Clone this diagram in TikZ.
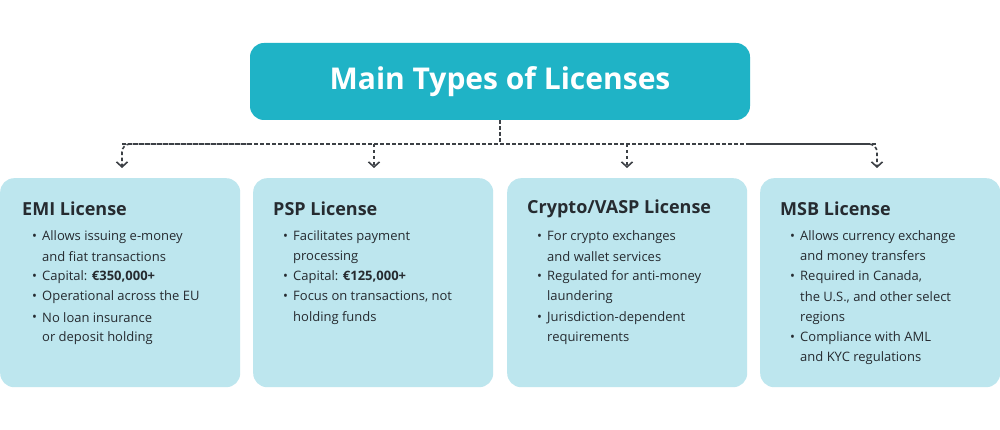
\documentclass[tikz,border=0pt]{standalone}
\usepackage{fontspec}
\setmainfont{Open Sans}
\usetikzlibrary{arrows.meta}
\definecolor{teal}{HTML}{1FB3C6}
\definecolor{lbox}{HTML}{BDE6EE}
\definecolor{ink}{HTML}{262B30}
\tikzset{
  card/.style={fill=lbox,draw=none,rounded corners=14pt},
  head/.style={anchor=west,inner sep=0,text=ink,font=\fontsize{18}{20}\selectfont\bfseries},
  txt/.style={anchor=west,inner sep=0,text=ink,font=\fontsize{13}{15}\selectfont},
  conn/.style={draw=ink!90,line width=1.6pt,dash pattern=on 3.5pt off 2.5pt},
  tip/.style={-{Straight Barb[length=5pt,width=11pt,line width=1.6pt]}}
}
\newcommand{\bul}[3]{\node[txt] at (#1+32,#2) {•}; \node[txt] at (#1+42,#2) {#3};}
\newcommand{\cont}[3]{\node[txt] at (#1+42,#2) {#3};}
\begin{document}
\begin{tikzpicture}[x=1pt,y=-1pt]
\useasboundingbox[fill=white] (0,0) rectangle (1000,430);
\node[fill=teal,rounded corners=14pt,minimum width=500pt,minimum height=77pt,inner sep=0,
  text=white,font=\fontsize{30}{32}\selectfont\bfseries] (title) at (500,81.5) {Main Types of Licenses};
\coordinate (hub) at (500,144);
\foreach \n/\x in {a/0,b/253,c/507,d/760}{
  \node[card,minimum width=240pt,minimum height=209pt,inner sep=0,anchor=north west] (\n) at (\x,178) {};
}
\foreach \n/\x in {a/122,b/374,c/627,d/877}{ \coordinate (t\n) at (\x,168); \coordinate (r\n) at (\x,144);}
\draw[conn] (title.south) -- (hub);
\draw[conn,rounded corners=8pt] (ra) -- (rd);
\draw[conn,rounded corners=8pt,tip] (250,144) -- (122,144) -- (ta);
\draw[conn,rounded corners=8pt,tip] (750,144) -- (877,144) -- (td);
\draw[conn,tip] (rb) -- (tb);
\draw[conn,tip] (rc) -- (tc);
% EMI
\node[head] at (22,209) {EMI License};
\bul{0}{237}{Allows issuing e-money}
\cont{0}{257}{and fiat transactions}
\bul{0}{277}{Capital: \textbf{€350,000+}}
\bul{0}{297}{Operational across the EU}
\bul{0}{318}{No loan insurance}
\cont{0}{338}{or deposit holding}
% PSP
\node[head] at (273,209) {PSP License};
\bul{251}{237}{Facilitates payment}
\cont{251}{257}{processing}
\bul{251}{277}{Capital: \textbf{€125,000+}}
\bul{251}{297}{Focus on transactions, not}
\cont{251}{318}{holding funds}
% Crypto
\node[head] at (527,209) {Crypto/VASP License};
\bul{505}{237}{For crypto exchanges}
\cont{505}{257}{and wallet services}
\bul{505}{277}{Regulated for anti-money}
\cont{505}{297}{laundering}
\bul{505}{318}{Jurisdiction-dependent}
\cont{505}{338}{requirements}
% MSB
\node[head] at (780,209) {MSB License};
\bul{758}{237}{Allows currency exchange}
\cont{758}{257}{and money transfers}
\bul{758}{277}{Required in Canada,}
\cont{758}{297}{the U.S., and other select}
\cont{758}{318}{regions}
\bul{758}{338}{Compliance with AML}
\cont{758}{358}{and KYC regulations}
\end{tikzpicture}
\end{document}
